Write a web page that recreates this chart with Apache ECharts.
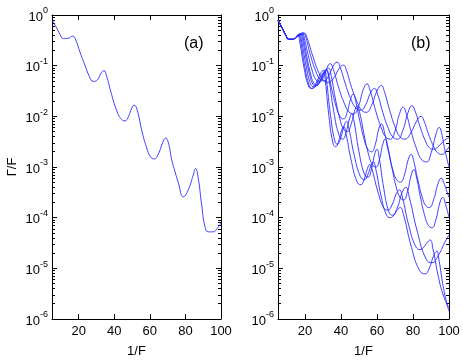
<!DOCTYPE html>
<html>
<head>
<meta charset="utf-8">
<script src="https://cdn.jsdelivr.net/npm/echarts@6/dist/echarts.min.js"></script>
<style>
  html, body { margin: 0; padding: 0; background: #fff; }
  #chart { width: 463px; height: 363px; }
</style>
</head>
<body>
<div id="chart"></div>
<script>
// x = 1/F, y = log10(Gamma/F)
const xTicks = [20, 40, 60, 80, 100];

// panel (a)
const curveA = [[5,-0.10],[7.6,-0.255],[9.5,-0.38],[11.4,-0.465],[14.2,-0.46],[16.6,-0.415],[18.5,-0.51],
  [20.7,-0.73],[23.5,-0.99],[26,-1.21],[28.2,-1.31],[30.5,-1.28],[32.9,-1.13],[34.2,-1.10],[35.7,-1.21],
  [38.5,-1.57],[41.3,-1.88],[43.6,-2.04],[46,-2.09],[47.9,-2.01],[49.8,-1.84],[51.2,-1.78],[52.9,-1.88],
  [55.4,-2.27],[58.2,-2.62],[60.4,-2.80],[62.5,-2.84],[64.7,-2.75],[67.2,-2.52],[68.9,-2.43],[70.4,-2.52],
  [72.2,-2.84],[74.2,-3.10],[76.1,-3.32],[78.8,-3.59],[81.6,-3.45],[84.4,-3.16],[85.7,-3.03],[87.2,-3.22],
  [89.1,-3.74],[91,-4.18],[92.8,-4.28],[95.6,-4.28],[97.9,-4.21],[100,-4.10]];

// panel (b): common start, then eight curves
const bStart = [[5,-0.10],[7.5,-0.27],[9.5,-0.41],[11,-0.48],[13,-0.48],[15,-0.44]];
const curveB1 = [[17.5,-0.40],[19.5,-0.36],[21.3,-0.47],[24.4,-0.82],[27.6,-1.13],[30.3,-1.29],[33,-1.33],
  [36,-1.24],[39.1,-1.05],[41.4,-0.99],[43,-1.09],[45.9,-1.43],[49,-1.72],[51.5,-1.88],[54,-1.92],[57,-1.78],
  [60.1,-1.49],[62.4,-1.39],[64.1,-1.51],[67.1,-1.89],[70.3,-2.23],[72.9,-2.41],[75.5,-2.45],[78.7,-2.33],
  [82.1,-2.09],[84.5,-2.0],[86,-2.08],[88.6,-2.35],[91.4,-2.59],[93.7,-2.72],[96,-2.75],[98,-2.7],[100,-2.6]];
const curveB2 = [[17,-0.39],[19,-0.35],[20.5,-0.45],[23.1,-0.80],[25.9,-1.10],[28.2,-1.26],[30.5,-1.30],
  [33.1,-1.20],[35.8,-1.0],[37.8,-0.93],[39.5,-1.03],[42.6,-1.38],[45.7,-1.68],[48.4,-1.84],[51,-1.88],
  [53.7,-1.77],[56.5,-1.53],[58.6,-1.45],[60.3,-1.56],[63.2,-1.92],[66.3,-2.24],[68.9,-2.41],[71.5,-2.45],
  [74.3,-2.28],[77.3,-1.92],[79.4,-1.79],[81,-1.88],[83.8,-2.19],[86.7,-2.47],[89.1,-2.62],[91.5,-2.65],
  [94.5,-2.58],[97.6,-2.47],[100,-2.42]];
const curveB3 = [[16.5,-0.40],[18.5,-0.36],[19.7,-0.47],[21.9,-0.81],[24.2,-1.12],[26.1,-1.28],[28,-1.32],
  [30.2,-1.23],[32.4,-1.03],[34,-0.96],[35.7,-1.07],[38.7,-1.43],[41.8,-1.74],[44.4,-1.91],[47,-1.95],
  [49.7,-1.80],[52.4,-1.47],[54.4,-1.36],[56.1,-1.48],[59.1,-1.87],[62.3,-2.22],[64.9,-2.41],[67.5,-2.45],
  [70,-2.29],[72.6,-1.94],[74.5,-1.82],[76.2,-1.94],[79.2,-2.33],[82.3,-2.67],[84.9,-2.86],[87.5,-2.9],
  [90.1,-2.72],[92.8,-2.35],[94.6,-2.22],[95.8,-2.32],[97.8,-2.68],[100,-3.0]];
const curveB4 = [[16,-0.40],[18,-0.36],[19.1,-0.47],[21.1,-0.84],[23.1,-1.16],[24.8,-1.34],[26.5,-1.38],
  [28.4,-1.30],[30.4,-1.13],[31.8,-1.07],[33.1,-1.18],[35.3,-1.53],[37.6,-1.84],[39.6,-2.01],[41.5,-2.05],
  [43.4,-1.92],[45.4,-1.65],[46.8,-1.56],[48.1,-1.69],[50.5,-2.10],[52.9,-2.46],[55,-2.65],[57,-2.7],
  [59,-2.56],[61,-2.25],[62.5,-2.15],[63.9,-2.28],[66.3,-2.69],[68.8,-3.06],[70.9,-3.25],[73,-3.3],
  [75.2,-3.16],[77.4,-2.85],[79,-2.75],[80.3,-2.87],[82.6,-3.24],[85,-3.58],[87,-3.76],[89,-3.8],
  [91.4,-3.65],[93.9,-3.33],[95.7,-3.22],[97,-3.3],[98.5,-3.45],[100,-3.6]];
const curveB5 = [[17.5,-0.37],[18.6,-0.48],[20.6,-0.85],[22.6,-1.18],[24.3,-1.36],[26,-1.40],[28.6,-1.31],
  [31.2,-1.12],[33.1,-1.05],[34.5,-1.19],[36.8,-1.64],[39.3,-2.04],[41.4,-2.25],[43.5,-2.3],[45.5,-2.17],
  [47.5,-1.9],[49,-1.8],[50.4,-1.93],[52.8,-2.36],[55.3,-2.75],[57.4,-2.95],[59.5,-3.0],[61.3,-2.86],
  [63.2,-2.55],[64.6,-2.45],[65.9,-2.58],[68.3,-3.01],[70.7,-3.40],[72.8,-3.60],[74.8,-3.65],[76.9,-3.49],
  [79,-3.16],[80.5,-3.05],[81.8,-3.18],[84.1,-3.59],[86.5,-3.96],[88.5,-4.15],[90.5,-4.2],[92.7,-4.04],
  [94.9,-3.71],[96.5,-3.6],[98.2,-3.75],[100,-4.0]];
const curveB6 = [[17,-0.38],[18,-0.49],[20.6,-1.0],[23.2,-1.37],[25,-1.42],[27.5,-1.34],[30.1,-1.16],[32,-1.10],
  [33.2,-1.25],[36,-1.91],[39,-2.38],[41,-2.45],[42.8,-2.32],[44.7,-2.05],[46,-1.95],[47.2,-2.09],[50,-2.70],
  [53,-3.14],[55,-3.2],[56.8,-3.06],[58.7,-2.75],[60,-2.65],[61.1,-2.79],[63.8,-3.43],[66.6,-3.89],[68.5,-3.95],
  [71.2,-3.81],[74,-3.50],[76,-3.4],[77.9,-3.59],[82.5,-4.29],[87.3,-4.82],[90.5,-4.89],[94,-4.75],
  [97.5,-4.5],[100,-4.34]];
const curveB7 = [[16.5,-0.38],[17.5,-0.50],[19.9,-1.02],[22.4,-1.40],[24,-1.45],[26.5,-1.36],[29.1,-1.18],
  [31,-1.12],[31.9,-1.28],[34.2,-1.98],[36.5,-2.48],[38,-2.55],[39.8,-2.43],[41.7,-2.19],[43,-2.1],
  [44.3,-2.23],[47.5,-2.79],[50.8,-3.19],[53,-3.25],[54.8,-3.16],[56.7,-2.97],[58,-2.9],[59.2,-3.02],
  [62.2,-3.56],[65.3,-3.95],[67.4,-4.0],[69.4,-3.95],[71.4,-3.84],[72.9,-3.8],[74.7,-3.94],[79.2,-4.59],
  [83.6,-5.04],[86.8,-5.11],[89.1,-4.99],[91.5,-4.75],[93.3,-4.66],[94.2,-4.78],[96.5,-5.3],[98.5,-5.65],
  [100,-5.85]];
const curveB8 = [[16,-0.39],[17,-0.51],[19.4,-1.03],[21.9,-1.40],[23.5,-1.45],[25.9,-1.36],[28.5,-1.16],
  [30.3,-1.09],[31.2,-1.26],[33.3,-2.0],[35.5,-2.52],[37,-2.6],[38.6,-2.50],[40.3,-2.28],[41.5,-2.2],
  [42.7,-2.33],[45.8,-2.89],[48.9,-3.29],[51,-3.35],[52.8,-3.25],[54.7,-3.03],[56,-2.95],[57.3,-3.05],
  [60.5,-3.49],[63.8,-3.81],[66,-3.85],[68.3,-3.75],[70.7,-3.53],[72.5,-3.45],[74,-3.58],[77.7,-4.16],
  [81.5,-4.57],[84,-4.63],[86,-4.58],[88.1,-4.48],[89.6,-4.44],[91,-4.6],[94,-5.15],[97,-5.55],[100,-5.78]];
const curvesB = [curveB1, curveB2, curveB3, curveB4, curveB5, curveB6, curveB7, curveB8];

const FONT = 'Liberation Sans, Arial, sans-serif';
const LINE_COLOR = '#2a2aff';

// minor tick positions between decades (log10 of 2..9)
const minorTicks = [];
for (let n = -6; n < 0; n++) {
  for (let k = 2; k <= 9; k++) minorTicks.push(n + Math.log10(k));
}

const myChart = echarts.init(document.getElementById('chart'), null, { renderer: 'canvas' });

const grids = [
  { left: 52, right: 242, top: 15, bottom: 35 },
  { left: 278, right: 14, top: 15, bottom: 35 }
];

const xAxes = [];
const yAxes = [];
grids.forEach((g, i) => {
  const base = {
    type: 'value', gridIndex: i, min: 5, max: 100,
    splitLine: { show: false },
    axisLine: { onZero: false, lineStyle: { color: '#000', width: 1 } },
    axisTick: { inside: true, length: 5, customValues: xTicks, lineStyle: { color: '#000' } }
  };
  xAxes.push(Object.assign({}, base, {
    position: 'bottom',
    name: '1/F', nameLocation: 'middle', nameGap: 26,
    nameTextStyle: { color: '#000', fontSize: 13, fontFamily: FONT },
    axisLabel: { customValues: xTicks, color: '#000', fontSize: 13, fontFamily: FONT, margin: 6 }
  }));
  xAxes.push(Object.assign({}, base, { position: 'top', axisLabel: { show: false } }));

  const yBase = {
    type: 'value', gridIndex: i, min: -6, max: 0, interval: 1,
    splitLine: { show: false },
    axisLine: { onZero: false, lineStyle: { color: '#000', width: 1 } },
    axisTick: { inside: true, length: 5, lineStyle: { color: '#000' } },
    axisLabel: { show: false }
  };
  yAxes.push(Object.assign({}, yBase, {
    position: 'left',
    name: i === 0 ? 'Γ/F' : '', nameLocation: 'middle', nameGap: 33, nameRotate: 90,
    nameTextStyle: { color: '#000', fontSize: 13, fontFamily: FONT },
    axisLabel: {
      show: true, margin: 4,
      formatter: v => '{b|10}{e|' + v + '}',
      rich: {
        b: { fontSize: 13, fontFamily: FONT, color: '#000', verticalAlign: 'bottom' },
        e: { fontSize: 9, fontFamily: FONT, color: '#000', verticalAlign: 'bottom', padding: [0, 0, 8, 0] }
      }
    }
  }));
  yAxes.push(Object.assign({}, yBase, {
    position: 'left', axisLine: { show: false },
    axisTick: { inside: true, length: 3, customValues: minorTicks, lineStyle: { color: '#000' } }
  }));
  yAxes.push(Object.assign({}, yBase, { position: 'right' }));
  yAxes.push(Object.assign({}, yBase, {
    position: 'right', axisLine: { show: false },
    axisTick: { inside: true, length: 3, customValues: minorTicks, lineStyle: { color: '#000' } }
  }));
});

const lineSeries = (data, i) => ({
  type: 'line', xAxisIndex: i * 2, yAxisIndex: i * 4,
  data: data, showSymbol: false, smooth: 0.5,
  lineStyle: { color: LINE_COLOR, width: 0.9 },
  silent: true, animation: false
});

const series = [lineSeries(curveA, 0)];
curvesB.forEach(c => series.push(lineSeries(bStart.concat(c), 1)));

myChart.setOption({
  backgroundColor: '#fff',
  animation: false,
  grid: grids,
  xAxis: xAxes,
  yAxis: yAxes,
  graphic: [
    { type: 'text', left: 184, top: 36, style: { text: '(a)', font: '16px ' + FONT, fill: '#000' } },
    { type: 'text', left: 411, top: 36, style: { text: '(b)', font: '16px ' + FONT, fill: '#000' } }
  ],
  series: series
});
</script>
</body>
</html>
